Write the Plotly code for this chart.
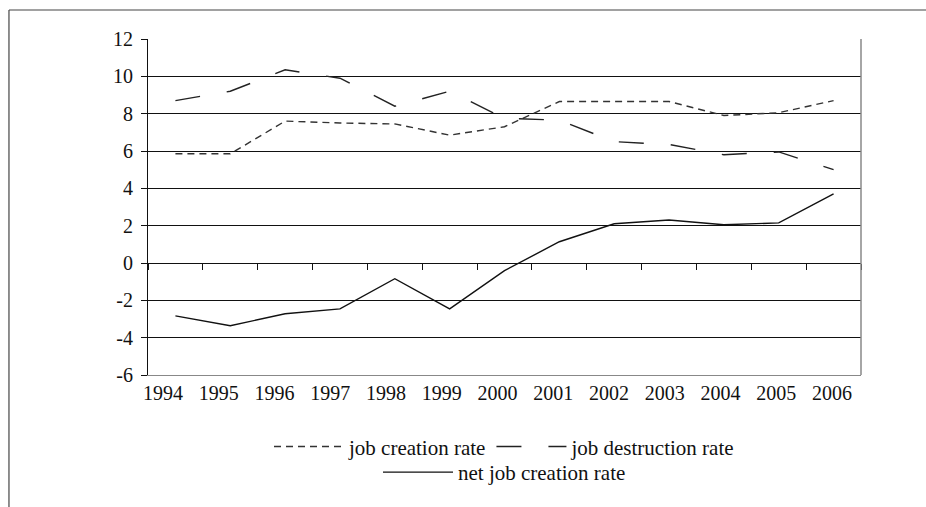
import plotly.graph_objects as go

years = [1994, 1995, 1996, 1997, 1998, 1999, 2000, 2001, 2002, 2003, 2004, 2005, 2006]
year_labels = [str(y) for y in years]
creation = [5.85, 5.85, 7.6, 7.5, 7.45, 6.85, 7.3, 8.65, 8.65, 8.65, 7.9, 8.05, 8.7]
destruction = [8.7, 9.2, 10.35, 9.9, 8.4, 9.2, 7.75, 7.65, 6.5, 6.35, 5.8, 5.95, 5.0]
net = [-2.83, -3.36, -2.72, -2.46, -0.84, -2.46, -0.41, 1.14, 2.1, 2.3, 2.05, 2.15, 3.7]
y_ticks = [-6, -4, -2, 0, 2, 4, 6, 8, 10, 12]
y_tick_labels = ["-6", "-4", "-2", "0", "2", "4", "6", "8", "10", "12"]

FONT = "Liberation Serif, Times New Roman, serif"

fig = go.Figure()
fig.add_trace(go.Scatter(x=years, y=creation, mode="lines", name="job creation rate",
                         line=dict(color="#333333", width=1.4, dash="7px,5px"), legend="legend"))
fig.add_trace(go.Scatter(x=years, y=destruction, mode="lines", name="job destruction rate",
                         line=dict(color="#222222", width=1.4, dash="25px,27px"), legend="legend"))
fig.add_trace(go.Scatter(x=years, y=net, mode="lines", name="net job creation rate",
                         line=dict(color="#111111", width=1.4), legend="legend2"))
# invisible carrier so the label axis (x2) is drawn
fig.add_trace(go.Scatter(x=years, y=net, xaxis="x2", yaxis="y", mode="lines",
                         line=dict(width=0, color="rgba(0,0,0,0)"), opacity=0,
                         showlegend=False, hoverinfo="skip"))

ymin, ymax = -6, 12
zero_pos = (0 - ymin) / (ymax - ymin)

fig.update_layout(
    width=926, height=507,
    margin=dict(l=148, r=65, t=39, b=132),
    paper_bgcolor="white", plot_bgcolor="white",
    font=dict(family=FONT, size=20, color="#111111"),
    xaxis=dict(
        range=[1993.5, 2006.5], anchor="free", position=zero_pos,
        showline=True, linecolor="#111111", linewidth=1,
        ticks="outside", ticklen=6, tickcolor="#111111", tickwidth=1,
        tickvals=[y - 0.5 for y in years] + [2006.5],
        showticklabels=False, showgrid=False, zeroline=False,
    ),
    xaxis2=dict(
        range=[1993.731, 2006.52], overlaying="x", anchor="y", side="bottom",
        tickvals=years, ticktext=year_labels,
        showline=True, linecolor="#888888", linewidth=1,
        ticks="", showgrid=False, zeroline=False,
        tickfont=dict(family=FONT, size=20, color="#111111"),
    ),
    yaxis=dict(
        range=[ymin, ymax], tickvals=y_ticks, ticktext=y_tick_labels,
        showgrid=True, gridcolor="#111111", gridwidth=1,
        showline=True, linecolor="#111111", linewidth=1,
        ticks="outside", ticklen=6, tickcolor="#111111",
        zeroline=False, ticklabelstandoff=4,
        tickfont=dict(family=FONT, size=20, color="#111111"),
    ),
    legend=dict(orientation="h", x=0.5, xanchor="center", y=-0.214, yanchor="middle",
                itemwidth=70,
                font=dict(family=FONT, size=21, color="#111111"), bgcolor="rgba(0,0,0,0)"),
    legend2=dict(orientation="h", x=0.5, xanchor="center", y=-0.29, yanchor="middle",
                 itemwidth=70,
                 font=dict(family=FONT, size=21, color="#111111"), bgcolor="rgba(0,0,0,0)"),
    showlegend=True,
    shapes=[
        dict(type="line", xref="paper", yref="paper", x0=1, x1=1, y0=0, y1=1,
             line=dict(color="#888888", width=1.5)),
        dict(type="line", xref="paper", yref="paper", x0=-0.195, x1=1.2, y0=1.0863, y1=1.0863,
             line=dict(color="#444444", width=1.2)),
        dict(type="line", xref="paper", yref="paper", x0=-0.195, x1=-0.195, y0=1.0863, y1=-0.5,
             line=dict(color="#444444", width=1.2)),
    ],
)

fig.write_html("out.html", config={"displayModeBar": False},
               post_script="document.body.style.margin='0';")
